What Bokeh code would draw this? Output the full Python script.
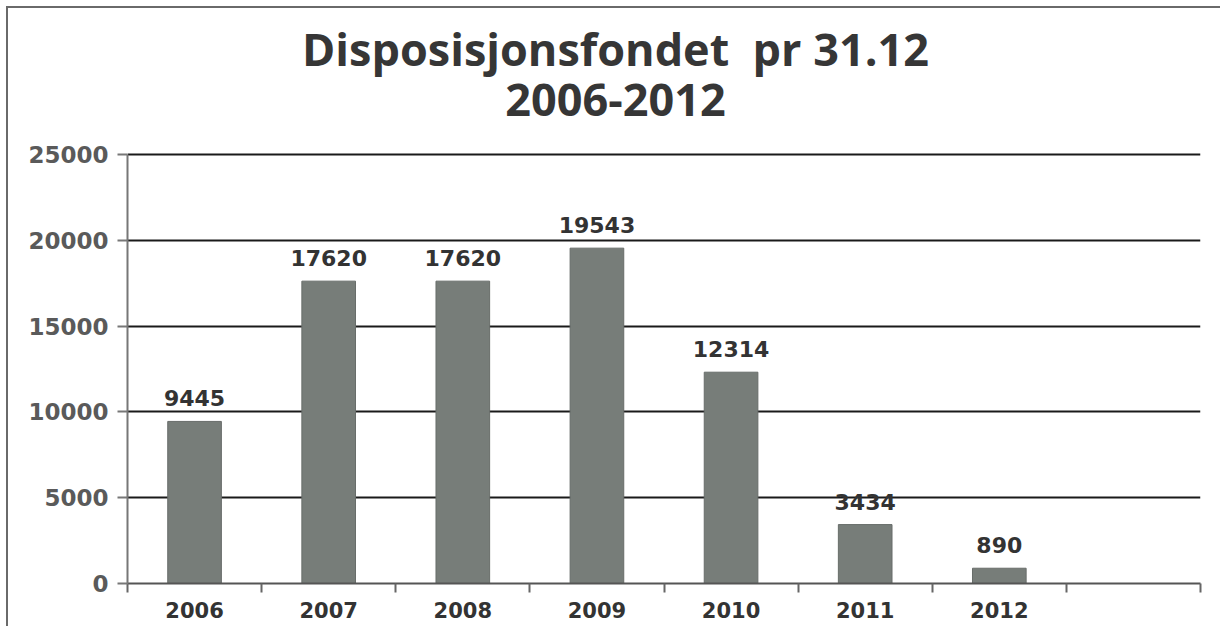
from bokeh.plotting import figure
from bokeh.models import Range1d, FixedTicker, Label, ColumnDataSource, LabelSet
from bokeh.core.properties import value
from bokeh.embed import file_html
from bokeh.resources import INLINE

title_line1 = "Disposisjonsfondet\u00a0 pr 31.12"
title_line2 = "2006-2012"
years = ["2006", "2007", "2008", "2009", "2010", "2011", "2012"]
values = [9445, 17620, 17620, 19543, 12314, 3434, 890]
y_ticks = [0, 5000, 10000, 15000, 20000, 25000]
n_slots = 8  # one empty category slot after 2012

centers = [i + 0.5 for i in range(len(years))]
bounds = list(range(n_slots + 1))

src = ColumnDataSource(dict(x=centers, top=values, label=[str(v) for v in values]))

# layout: frame extends up into the title area; the value axis covers 0..25000 over 429 px
H, TOP, BOTTOM, AXIS_PX = 620, 4, 45, 429
frame_px = H - TOP - BOTTOM
y_end = y_ticks[-1] * frame_px / AXIS_PX

p = figure(width=1214, height=H, output_backend="svg", toolbar_location=None,
           x_range=Range1d(0, n_slots), y_range=Range1d(0, y_end),
           min_border_left=119, min_border_right=22, min_border_top=TOP,
           min_border_bottom=BOTTOM, title=None,
           styles={"border-top": "2px solid #6a6a6a", "border-left": "2px solid #6a6a6a",
                   "margin-top": "6px", "margin-left": "6px"})
p.outline_line_color = None
p.background_fill_color = "white"
p.border_fill_color = "white"

for txt, ypos in ((title_line1, 535), (title_line2, 484)):
    p.add_layout(Label(x=488, y=ypos, x_units="screen", y_units="screen", text=txt,
                       text_align="center", text_baseline="middle",
                       text_font="Open Sans", text_font_size="45px",
                       text_font_style="bold", text_color="#363636"))

p.vbar(x="x", top="top", width=0.40, source=src, fill_color="#777d79",
       line_color="#686d6a", line_width=1)

labels = LabelSet(x="x", y="top", text="label", source=src, text_align="center",
                  text_baseline="bottom", y_offset=15, text_font=value("DejaVu Sans"),
                  text_font_style="bold", text_font_size="22px", text_color="#333333")
p.add_layout(labels)

# grid
p.xgrid.grid_line_color = None
p.ygrid.ticker = FixedTicker(ticks=y_ticks[1:])
p.ygrid.grid_line_color = "#1a1a1a"
p.ygrid.grid_line_width = 2

# y axis
p.yaxis.ticker = FixedTicker(ticks=y_ticks)
p.yaxis.bounds = (y_ticks[0], y_ticks[-1])
p.yaxis.axis_line_color = "#777777"
p.yaxis.axis_line_width = 2
p.yaxis.major_tick_line_color = "#777777"
p.yaxis.major_tick_line_width = 2
p.yaxis.major_tick_out = 10
p.yaxis.major_tick_in = 0
p.yaxis.minor_tick_line_color = None
p.yaxis.major_label_standoff = 9
p.yaxis.major_label_text_font = "DejaVu Sans"
p.yaxis.major_label_text_font_style = "bold"
p.yaxis.major_label_text_font_size = "23px"
p.yaxis.major_label_text_color = "#5a5a5a"

# x axis
p.xaxis.ticker = FixedTicker(ticks=centers, minor_ticks=bounds)
p.xaxis.major_label_overrides = {c: y for c, y in zip(centers, years)}
p.xaxis.axis_line_color = "#555555"
p.xaxis.axis_line_width = 2
p.xaxis.major_tick_line_color = None
p.xaxis.major_tick_out = 0
p.xaxis.major_tick_in = 0
p.xaxis.minor_tick_line_color = "#666666"
p.xaxis.minor_tick_line_width = 2
p.xaxis.minor_tick_out = 9
p.xaxis.minor_tick_in = 0
p.xaxis.major_label_standoff = 9
p.xaxis.major_label_text_font = "DejaVu Sans"
p.xaxis.major_label_text_font_style = "bold"
p.xaxis.major_label_text_font_size = "21px"
p.xaxis.major_label_text_color = "#333333"

open("out.html", "w").write(file_html(p, INLINE))
